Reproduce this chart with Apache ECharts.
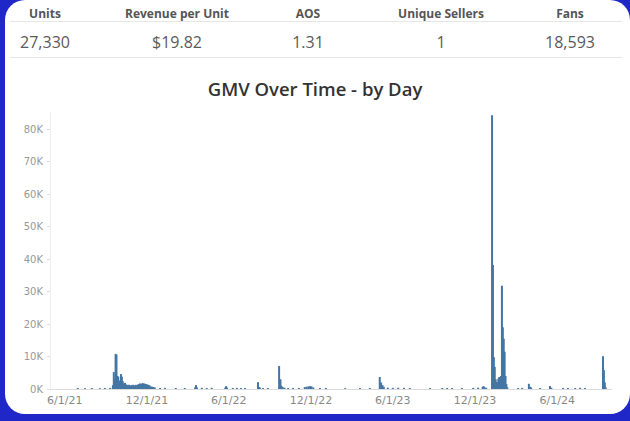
<!DOCTYPE html>
<html>
<head>
<meta charset="utf-8">
<script src="https://cdn.jsdelivr.net/npm/echarts@6/dist/echarts.min.js"></script>
<style>
html, body { margin: 0; padding: 0; }
body { width: 630px; height: 421px; background: #1f27c9; position: relative; overflow: hidden; font-family: "Open Sans", "Noto Sans", sans-serif; }
.card { position: absolute; left: 5px; top: 0; width: 625px; height: 414px; background: #fff; border-radius: 20px; }
.rule { position: absolute; left: 10px; width: 612px; height: 1px; background: #e6e6e6; }
.kpi { position: absolute; transform: translateX(-50%); white-space: nowrap; text-align: center; }
.kpi .h { font-size: 12px; font-weight: 700; color: #555; line-height: 14px; }
.kpi .v { font-size: 16px; color: #5a5a5a; line-height: 18px; margin-top: 12px; }
#chart { position: absolute; left: 0; top: 60px; width: 630px; height: 361px; }
</style>
</head>
<body>
<div class="card"></div>
<div class="rule" style="top:21px"></div>
<div class="rule" style="top:57px"></div>
<div id="kpis"></div>
<div id="chart"></div>
<script>
// KPI row
var kpiNames = ['Units', 'Revenue per Unit', 'AOS', 'Unique Sellers', 'Fans'];
var kpiValues = ['27,330', '$19.82', '1.31', '1', '18,593'];

// GMV by day (only days with sales)
var dates = [
  '2021-06-30', '2021-07-16', '2021-07-31', '2021-08-18', '2021-08-29', '2021-09-10', '2021-09-16',
  '2021-09-18', '2021-09-20', '2021-09-22', '2021-09-24', '2021-09-26', '2021-09-28', '2021-09-30',
  '2021-10-02', '2021-10-04', '2021-10-06', '2021-10-08', '2021-10-10', '2021-10-13', '2021-10-16',
  '2021-10-19', '2021-10-22', '2021-10-25', '2021-10-28', '2021-10-31', '2021-11-03', '2021-11-06',
  '2021-11-09', '2021-11-12', '2021-11-15', '2021-11-18', '2021-11-21', '2021-11-24', '2021-11-27',
  '2021-11-30', '2021-12-03', '2021-12-06', '2021-12-09', '2021-12-12', '2021-12-15', '2021-12-18',
  '2021-12-30', '2022-01-10', '2022-02-03', '2022-02-23', '2022-03-18', '2022-03-20', '2022-03-22',
  '2022-04-02', '2022-04-13', '2022-04-24', '2022-05-24', '2022-05-26', '2022-05-28', '2022-06-10',
  '2022-06-19', '2022-06-28', '2022-07-07', '2022-08-05', '2022-08-07', '2022-08-09', '2022-08-16',
  '2022-08-27', '2022-09-21', '2022-09-24', '2022-09-26', '2022-09-29', '2022-10-03', '2022-10-11',
  '2022-10-22', '2022-11-04', '2022-11-17', '2022-11-21', '2022-11-25', '2022-11-29', '2022-12-02',
  '2022-12-06', '2022-12-21', '2023-01-03', '2023-02-15', '2023-03-20', '2023-04-11', '2023-05-03',
  '2023-05-06', '2023-05-09', '2023-05-12', '2023-05-21', '2023-06-01', '2023-06-13', '2023-06-26',
  '2023-07-09', '2023-08-23', '2023-09-19', '2023-09-30', '2023-10-11', '2023-11-02', '2023-11-27',
  '2023-12-08', '2023-12-18', '2023-12-20', '2023-12-22', '2023-12-26', '2024-01-08', '2024-01-10',
  '2024-01-12', '2024-01-14', '2024-01-16', '2024-01-18', '2024-01-20', '2024-01-22', '2024-01-24',
  '2024-01-26', '2024-01-28', '2024-01-30', '2024-02-01', '2024-02-03', '2024-02-05', '2024-02-07',
  '2024-02-09', '2024-02-11', '2024-03-06', '2024-03-15', '2024-03-30', '2024-04-02', '2024-04-04',
  '2024-04-24', '2024-05-16', '2024-05-19', '2024-06-14', '2024-06-25', '2024-07-11', '2024-07-22',
  '2024-08-02', '2024-09-11', '2024-09-13', '2024-09-15', '2024-09-17'
];
var gmv = [
  300, 250, 300, 250, 300, 350, 1200,
  5200, 3000, 10800, 10600, 4000, 3800, 2600,
  2000, 4600, 3800, 2400, 1600, 1900, 1400,
  1200, 1300, 1100, 1200, 1300, 1100, 1300,
  1200, 1500, 1700, 1600, 1800, 1700, 1600,
  1500, 1300, 1200, 800, 700, 600, 500,
  300, 350, 300, 300, 500, 1200, 500,
  350, 300, 350, 400, 900, 400, 300,
  350, 300, 300, 2100, 600, 500, 300,
  300, 7100, 3000, 1000, 600, 400, 300,
  300, 300, 600, 700, 800, 900, 800,
  500, 300, 300, 250, 300, 300, 3700,
  2000, 1200, 700, 400, 350, 400, 350,
  300, 300, 300, 300, 300, 300, 350,
  400, 600, 900, 500, 400, 84300, 38200,
  9800, 6800, 3000, 2200, 2000, 3200, 3700,
  3500, 4000, 31800, 19000, 15500, 11500, 4000,
  1500, 500, 300, 350, 1600, 700, 400,
  300, 900, 400, 300, 300, 300, 350,
  300, 10100, 5800, 2000, 500
];

// x axis range and tick labels
var xStart = '2021-04-29';
var xEnd = '2024-10-01';
var tickDates = ['2021-06-01', '2021-12-01', '2022-06-01', '2022-12-01', '2023-06-01', '2023-12-01', '2024-06-01'];

function toTime(s) {
  var p = s.split('-');
  return new Date(+p[0], +p[1] - 1, +p[2]).getTime();
}

var html = '';
var centers = [45, 177, 308, 441, 570];
kpiNames.forEach(function (name, i) {
  html += '<div class="kpi" style="left:' + centers[i] + 'px;top:7px"><div class="h">' + name +
    '</div><div class="v">' + kpiValues[i] + '</div></div>';
});
document.getElementById('kpis').innerHTML = html;

var myChart = echarts.init(document.getElementById('chart'), null, { renderer: 'svg' });
var option = {
  animation: false,
  title: {
    text: 'GMV Over Time - by Day',
    left: 'center',
    top: 14,
    textStyle: { fontFamily: 'Open Sans', fontSize: 18.5, fontWeight: 600, color: '#333' }
  },
  grid: { left: 50, right: 18, top: 53, bottom: 32 },
  xAxis: {
    // dates as timestamps on a plain value axis, ticks placed on the 1st of Jun / Dec
    type: 'value',
    min: toTime(xStart),
    max: toTime(xEnd),
    axisLine: { lineStyle: { color: '#dcdcdc' } },
    axisTick: { show: false },
    splitLine: { show: false },
    axisLabel: {
      customValues: tickDates.map(toTime),
      margin: 6,
      fontFamily: 'DejaVu Sans',
      fontSize: 11,
      color: '#888',
      formatter: function (val) {
        var d = new Date(val);
        return (d.getMonth() + 1) + '/' + d.getDate() + '/' + String(d.getFullYear()).slice(2);
      }
    }
  },
  yAxis: {
    type: 'value',
    min: 0,
    max: 85000,
    interval: 10000,
    axisLine: { show: true, lineStyle: { color: '#eeeeee' } },
    axisTick: { show: true, length: 3, lineStyle: { color: '#dddddd' } },
    splitLine: { show: false },
    axisLabel: {
      showMaxLabel: false,
      margin: 7,
      fontFamily: 'DejaVu Sans',
      fontSize: 10,
      color: '#999',
      formatter: function (v) { return (v / 1000) + 'K'; }
    }
  },
  series: [{
    type: 'bar',
    barWidth: 2,
    itemStyle: { color: '#4575a3' },
    data: dates.map(function (d, i) { return [toTime(d), gmv[i]]; })
  }]
};
myChart.setOption(option);
</script>
</body>
</html>
